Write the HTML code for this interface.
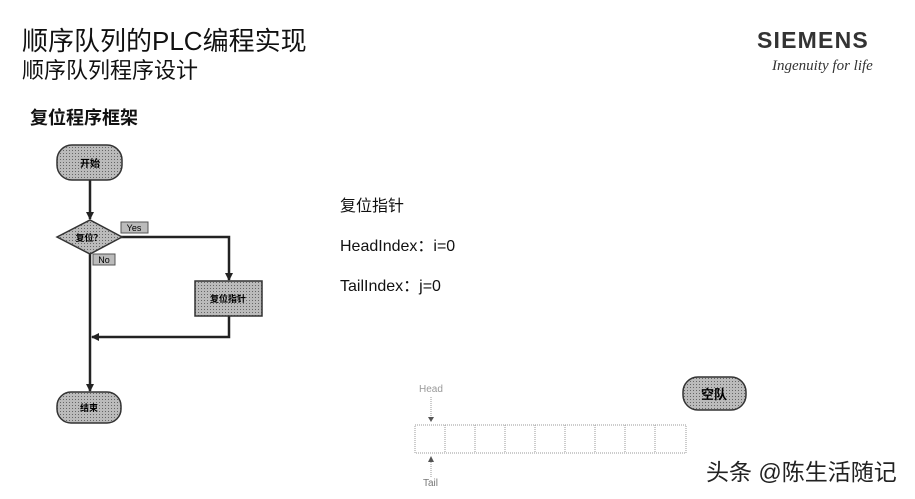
<!DOCTYPE html>
<html><head><meta charset="utf-8"><style>
body{margin:0;width:915px;height:499px;background:#fff;position:relative;overflow:hidden;font-family:"Liberation Sans","Noto Sans CJK SC",sans-serif;color:#111}
.t{position:absolute;white-space:nowrap}
</style></head><body>
<div class="t" style="left:22px;top:21px;font-size:26px;">顺序队列的PLC编程实现</div>
<div class="t" style="left:22px;top:53px;font-size:22px;">顺序队列程序设计</div>
<div class="t" style="left:757px;top:27px;font-size:23px;font-weight:bold;color:#333;letter-spacing:1.2px">SIEMENS</div>
<div class="t" style="left:772px;top:58px;font-size:15px;font-style:italic;font-family:'Liberation Serif',serif;color:#333">Ingenuity for life</div>
<div class="t" style="left:30px;top:104px;font-size:18px;font-weight:bold">复位程序框架</div>
<div class="t" style="left:340px;top:192px;font-size:16px">复位指针</div>
<div class="t" style="left:340px;top:232px;font-size:16px">HeadIndex：i=0</div>
<div class="t" style="left:340px;top:272px;font-size:16px">TailIndex：j=0</div>
<div class="t" style="left:706px;top:453px;font-size:23px;color:#222">头条 @陈生活随记</div>
<svg width="915" height="499" style="position:absolute;left:0;top:0">
<defs><pattern id="p" width="3" height="3" patternUnits="userSpaceOnUse"><rect width="3" height="3" fill="#bbb"/><rect width="1" height="1" fill="#666"/></pattern>
<marker id="a" markerWidth="8" markerHeight="8" refX="7" refY="4" orient="auto" markerUnits="userSpaceOnUse"><path d="M0,0L8,4L0,8z" fill="#222"/></marker></defs>
<g stroke="#222" stroke-width="2.5" fill="none">
<line x1="90" y1="180" x2="90" y2="219" marker-end="url(#a)"/>
<polyline points="121,237 229,237 229,280" marker-end="url(#a)"/>
<polyline points="229,316 229,337 92,337" marker-end="url(#a)"/>
<line x1="90" y1="254" x2="90" y2="391" marker-end="url(#a)"/>
</g>
<rect x="57" y="145" width="65" height="35" rx="15" fill="url(#p)" stroke="#333" stroke-width="1.5"/>
<text x="90" y="167" font-size="10" text-anchor="middle" font-weight="bold">开始</text>
<polygon points="57,237 90,220 122,237 90,254" fill="url(#p)" stroke="#333" stroke-width="1.5"/>
<text x="89" y="241" font-size="9" text-anchor="middle" font-weight="bold">复位？</text>
<rect x="121" y="222" width="27" height="11" fill="#bbb" stroke="#555"/>
<text x="134" y="231" font-size="9" text-anchor="middle">Yes</text>
<rect x="93" y="254" width="22" height="11" fill="#bbb" stroke="#555"/>
<text x="104" y="263" font-size="9" text-anchor="middle">No</text>
<rect x="195" y="281" width="67" height="35" fill="url(#p)" stroke="#333" stroke-width="1.5"/>
<text x="228" y="302" font-size="9" text-anchor="middle" font-weight="bold">复位指针</text>
<rect x="57" y="392" width="64" height="31" rx="14" fill="url(#p)" stroke="#333" stroke-width="1.5"/>
<text x="89" y="411" font-size="9" text-anchor="middle" font-weight="bold">结束</text>
<rect x="683" y="377" width="63" height="33" rx="15" fill="url(#p)" stroke="#333" stroke-width="1.5"/>
<text x="714" y="399" font-size="13" text-anchor="middle" font-weight="bold">空队</text>
<g stroke="#999" stroke-width="1" fill="none" stroke-dasharray="1,1">
<rect x="415" y="425" width="271" height="28"/>
<line x1="445" y1="425" x2="445" y2="453"/><line x1="475" y1="425" x2="475" y2="453"/><line x1="505" y1="425" x2="505" y2="453"/><line x1="535" y1="425" x2="535" y2="453"/><line x1="565" y1="425" x2="565" y2="453"/><line x1="595" y1="425" x2="595" y2="453"/><line x1="625" y1="425" x2="625" y2="453"/><line x1="655" y1="425" x2="655" y2="453"/>
<line x1="431" y1="397" x2="431" y2="418"/><line x1="431" y1="462" x2="431" y2="478"/>
</g>
<path d="M428,417L434,417L431,422z" fill="#555"/><path d="M428,462L434,462L431,456z" fill="#555"/>
<text x="419" y="392" font-size="10" fill="#999">Head</text>
<text x="423" y="486" font-size="10" fill="#777">Tail</text>
</svg>
</body></html>
